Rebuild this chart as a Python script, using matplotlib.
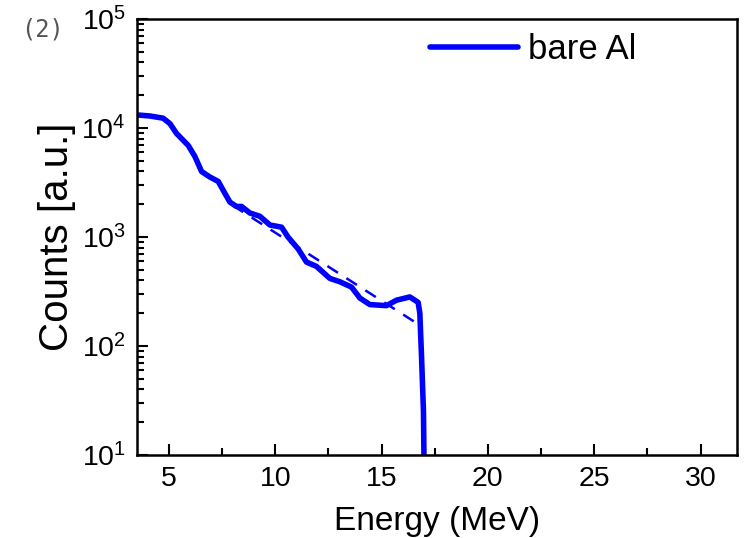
import matplotlib.pyplot as plt
import numpy as np
from matplotlib.ticker import LogLocator, MultipleLocator, NullFormatter

plt.rcParams['font.family'] = ['Liberation Sans', 'DejaVu Sans']

# measured spectrum (bare Al)
energy = [3.5, 4.11, 4.73, 5.05, 5.36, 5.91, 6.22, 6.54, 6.93, 7.32, 7.55, 7.87,
          8.18, 8.42, 8.81, 9.28, 9.75, 10.3, 10.6, 11.08, 11.47, 11.94, 12.57,
          13.03, 13.59, 13.98, 14.45, 15.23, 15.7, 16.33, 16.72, 16.8, 16.88,
          16.97, 17.05]
log_counts = [4.12, 4.11, 4.09, 4.04, 3.95, 3.84, 3.74, 3.60, 3.55, 3.51, 3.43, 3.32,
              3.28, 3.28, 3.22, 3.19, 3.11, 3.09, 3.00, 2.89, 2.77, 2.73, 2.62,
              2.59, 2.54, 2.44, 2.38, 2.37, 2.42, 2.45, 2.40, 2.30, 1.90,
              1.40, 0.0]
counts = 10 ** np.array(log_counts)

# exponential fit (dashed)
fit_energy = [8.0, 16.8]
fit_counts = [1950, 155]

fig = plt.figure(figsize=(7.46, 5.38), dpi=100)
ax = fig.add_axes([0.1836, 0.1543, 0.804, 0.8104])

ax.plot(energy, counts, color='#0000ff', lw=4, label='bare Al', solid_capstyle='round')
ax.plot(fit_energy, fit_counts, color='#0000ff', lw=1.8, ls=(0, (5, 4)))

ax.set_yscale('log')
ax.set_xlim(3.5, 31.7)
ax.set_ylim(10, 1e5)
ax.xaxis.set_major_locator(MultipleLocator(5))
ax.xaxis.set_minor_locator(MultipleLocator(2.5))
ax.yaxis.set_major_locator(LogLocator(base=10, numticks=10))
ax.yaxis.set_minor_locator(LogLocator(base=10, subs=np.arange(2, 10), numticks=10))
ax.yaxis.set_minor_formatter(NullFormatter())

ax.tick_params(which='both', direction='in', width=1.5, labelsize=20.5, pad=8)
ax.tick_params(which='major', length=8)
ax.tick_params(which='minor', length=5)
for s in ax.spines.values():
    s.set_linewidth(1.8)

ax.set_xlabel('Energy (MeV)', fontsize=24, labelpad=10)
ax.set_ylabel('Counts [a.u.]', fontsize=29, labelpad=4)

leg = ax.legend(loc='upper left', bbox_to_anchor=(0.488, 0.968), frameon=False,
                fontsize=25, handlelength=2.54, handletextpad=0.29,
                borderpad=0, borderaxespad=0)

fig.text(0.028, 0.933, '(2)', fontsize=17, color='#555555', family='DejaVu Sans Mono')

fig.savefig('out.png', dpi=100)
